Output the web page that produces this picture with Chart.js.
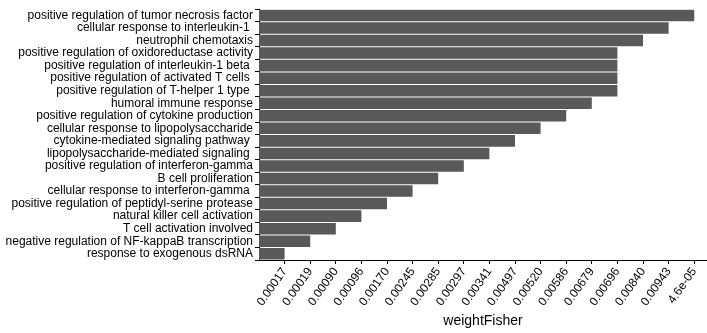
<!DOCTYPE html>
<html>
<head>
<meta charset="utf-8">
<script src="https://cdn.jsdelivr.net/npm/chart.js@4"></script>
<style>
html,body{margin:0;padding:0;background:#fff;}
#wrap{width:707px;height:333px;position:relative;}
</style>
</head>
<body>
<div id="wrap"><canvas id="c" width="707" height="333"></canvas></div>
<script>
// GO term categories (top to bottom)
const categories = [
  "positive regulation of tumor necrosis factor",
  "cellular response to interleukin-1 ",
  "neutrophil chemotaxis",
  "positive regulation of oxidoreductase activity",
  "positive regulation of interleukin-1 beta ",
  "positive regulation of activated T cells ",
  "positive regulation of T-helper 1 type ",
  "humoral immune response",
  "positive regulation of cytokine production",
  "cellular response to lipopolysaccharide",
  "cytokine-mediated signaling pathway ",
  "lipopolysaccharide-mediated signaling ",
  "positive regulation of interferon-gamma",
  "B cell proliferation",
  "cellular response to interferon-gamma ",
  "positive regulation of peptidyl-serine protease",
  "natural killer cell activation",
  "T cell activation involved",
  "negative regulation of NF-kappaB transcription",
  "response to exogenous dsRNA"
];
// weightFisher p-value label of each category
const pvalues = [
  "4.6e-05","0.00943","0.00840","0.00696","0.00696","0.00696","0.00696",
  "0.00679","0.00586","0.00520","0.00497","0.00341","0.00297","0.00285",
  "0.00245","0.00170","0.00096","0.00090","0.00019","0.00017"
];
// discrete x-axis tick labels (left to right)
const xTickLabels = [
  "0.00017","0.00019","0.00090","0.00096","0.00170","0.00245","0.00285",
  "0.00297","0.00341","0.00497","0.00520","0.00586","0.00679","0.00696",
  "0.00840","0.00943","4.6e-05"
];
const values = pvalues.map(p => xTickLabels.indexOf(p) + 1);

const FONT = "'Liberation Sans', Arial, Helvetica, sans-serif";

new Chart(document.getElementById('c'), {
  type: 'bar',
  data: {
    labels: categories,
    datasets: [{
      data: values,
      backgroundColor: '#595959',
      borderWidth: 0,
      barPercentage: 0.92,
      categoryPercentage: 1.0
    }]
  },
  options: {
    indexAxis: 'y',
    responsive: false,
    animation: false,
    maintainAspectRatio: false,
    layout: { padding: { top: 4, right: 0, left: 0, bottom: 0 } },
    plugins: { legend: { display: false }, tooltip: { enabled: false } },
    scales: {
      x: {
        type: 'linear',
        min: 0,
        max: 17.5,
        afterBuildTicks: (scale) => {
          scale.ticks = xTickLabels.map((l, i) => ({ value: i + 1 }));
        },
        afterFit: (scale) => { scale.height = 73; },
        ticks: {
          autoSkip: false,
          minRotation: 55,
          maxRotation: 55,
          color: '#000',
          padding: 1,
          font: { family: FONT, size: 12 },
          callback: (v) => xTickLabels[Math.round(v) - 1] || ''
        },
        grid: {
          display: true,
          drawOnChartArea: false,
          drawTicks: true,
          tickLength: 4,
          color: '#000'
        },
        border: { display: true, color: '#000', width: 1 },
        title: {
          display: true,
          text: 'weightFisher',
          color: '#000',
          font: { family: FONT, size: 14 },
          padding: { top: 0, bottom: 3 }
        }
      },
      y: {
        type: 'category',
        offset: true,
        afterFit: (scale) => { scale.width = 259; },
        ticks: {
          autoSkip: false,
          color: '#000',
          padding: 2,
          font: { family: FONT, size: 12 }
        },
        grid: {
          display: true,
          drawOnChartArea: false,
          drawTicks: true,
          tickLength: 4,
          color: '#000'
        },
        border: { display: true, color: '#000', width: 1 }
      }
    }
  }
});
</script>
</body>
</html>
